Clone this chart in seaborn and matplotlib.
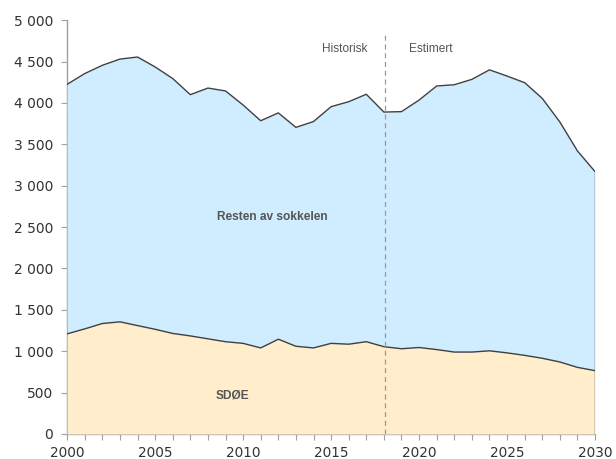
import matplotlib
matplotlib.use("Agg")
import matplotlib.pyplot as plt
import matplotlib.ticker as mticker
import numpy as np
import pandas as pd
import seaborn as sns

years = list(range(2000, 2031))
sdoe = [1210, 1270, 1335, 1355, 1310, 1265, 1215, 1185, 1150, 1115, 1095, 1040, 1145, 1060, 1040, 1095,
        1085, 1115, 1055, 1030, 1045, 1020, 990, 990, 1005, 980, 950, 915, 870, 805, 765]
resten = [3015, 3085, 3120, 3175, 3245, 3170, 3080, 2915, 3030, 3030, 2880, 2745, 2735, 2645, 2735, 2860,
          2930, 2990, 2835, 2865, 2990, 3185, 3230, 3295, 3395, 3345, 3295, 3140, 2900, 2615, 2405]
series_labels = ["SDØE", "Resten av sokkelen"]
period_labels = ["Historisk", "Estimert"]
split_year = 2018
y_ticks = [0, 500, 1000, 1500, 2000, 2500, 3000, 3500, 4000, 4500, 5000]
x_ticks = [2000, 2005, 2010, 2015, 2020, 2025, 2030]

df = pd.DataFrame({"year": years, "sdoe": sdoe, "resten": resten})
df["total"] = df["sdoe"] + df["resten"]

sns.set_style("white")
plt.rcParams["font.family"] = ["DejaVu Sans"]

fig = plt.figure(figsize=(6.16, 4.59), dpi=100)
ax = fig.add_axes([0.109, 0.0545, 0.857, 0.9015])

c_low = "#FFEDCB"
c_high = "#D0ECFF"
c_line = "#404040"

ax.fill_between(df["year"], 0, df["sdoe"], color=c_low, lw=0, zorder=2)
ax.fill_between(df["year"], df["sdoe"], df["total"], color=c_high, lw=0, zorder=2)
sns.lineplot(data=df, x="year", y="sdoe", color=c_line, lw=1.0, ax=ax, zorder=3)
sns.lineplot(data=df, x="year", y="total", color=c_line, lw=1.0, ax=ax, zorder=3)
ax.vlines(years[-1], 0, df["total"].iloc[-1], color=c_line, lw=1.0, zorder=3)

ax.axvline(split_year + 0.05, ymin=0, ymax=0.965, color="#999999", lw=0.9, ls=(0, (4, 3)), zorder=4)

ax.set_xlim(2000, 2030)
ax.set_ylim(0, 5000)
ax.set_xticks(x_ticks)
ax.xaxis.set_minor_locator(mticker.MultipleLocator(1))
ax.set_yticks(y_ticks)
ax.yaxis.set_major_formatter(mticker.FuncFormatter(lambda v, p: f"{int(v):,}".replace(",", " ")))
ax.set_xlabel("")
ax.set_ylabel("")

for s in ["top", "right"]:
    ax.spines[s].set_visible(False)
for s in ["left", "bottom"]:
    ax.spines[s].set_color("#A0A0A0")
    ax.spines[s].set_linewidth(1.0)
    ax.spines[s].set_zorder(1)

ax.tick_params(axis="both", which="major", direction="out", length=4, width=0.8, color="#A0A0A0",
               labelcolor="#333333")
ax.tick_params(axis="y", which="major", left=True, labelsize=10, pad=6)
ax.tick_params(axis="x", which="major", bottom=True, labelsize=9.8, pad=5)
ax.tick_params(axis="x", which="minor", direction="out", length=4, width=0.8, color="#A0A0A0", bottom=True)

txt = dict(family="Liberation Sans", color="#555555")
ax.text(2017.05, 4650, period_labels[0], ha="right", va="center", fontsize=8.6, **txt)
ax.text(2019.4, 4650, period_labels[1], ha="left", va="center", fontsize=8.6, **txt)
ax.text(2011.65, 2620, series_labels[1], ha="center", va="center", fontsize=8.6, fontweight="bold", **txt)
ax.text(2009.4, 470, series_labels[0], ha="center", va="center", fontsize=8.6, fontweight="bold", **txt)

fig.savefig("out.png", dpi=100)
